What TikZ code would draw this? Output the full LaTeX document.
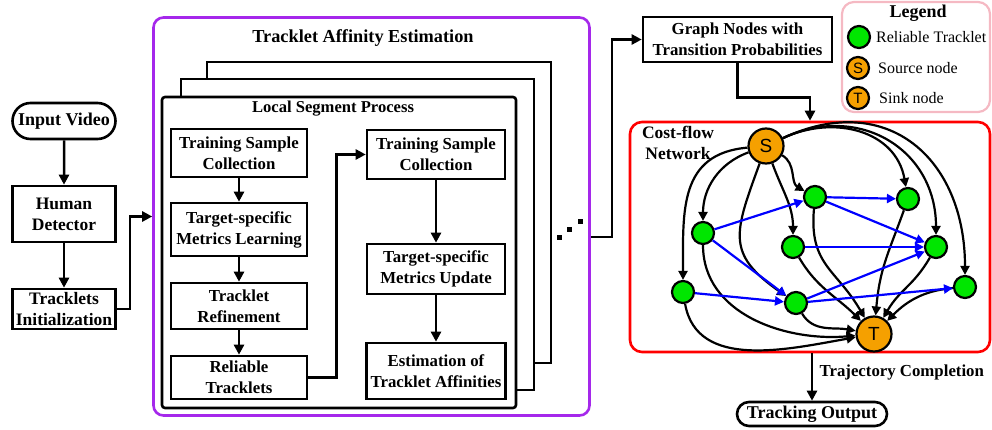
\documentclass[tikz,border=0pt]{standalone}
\usepackage{fontspec}
\setmainfont{Liberation Serif}
\newfontfamily\labelsans{Liberation Sans}
\usetikzlibrary{
    positioning,
    arrows.meta,
    shapes.misc
}

\definecolor{affpurple}{RGB}{165,40,235}
\definecolor{legendpink}{RGB}{245,185,195}
\definecolor{trackgreen}{RGB}{0,230,0}
\definecolor{endorange}{RGB}{245,160,0}

\begin{document}
\begin{tikzpicture}[
    x=1pt, y=1pt,
    procbox/.style={rectangle, draw, line width=2.6pt, fill=white, align=center, inner sep=0pt, font=\fontsize{16.8}{21}\selectfont\bfseries},
    pillbox/.style={rounded rectangle, draw, line width=2.6pt, fill=white, align=center, inner sep=0pt, font=\fontsize{18}{22}\selectfont\bfseries},
    framebox/.style={rectangle, draw, line width=2.6pt, fill=white, inner sep=0pt},
    arrow/.style={-{Triangle[length=10pt, width=10pt]}, line width=2.5pt},
    edge/.style={-{Triangle[length=9pt, width=9pt]}, line width=2.2pt},
    blueedge/.style={edge, draw=blue},
    tracklet/.style={circle, draw, line width=2.2pt, fill=trackgreen, minimum size=22pt, inner sep=0pt},
    endnode/.style={circle, draw, line width=2.2pt, fill=endorange, minimum size=35pt, inner sep=0pt, font=\labelsans\fontsize{19}{19}\selectfont},
    keyend/.style={endnode, minimum size=22pt, font=\labelsans\fontsize{15}{15}\selectfont},
    keytext/.style={anchor=west, inner sep=0pt, font=\fontsize{16}{19}\selectfont}
]
\useasboundingbox (0,0) rectangle (992,429);

% input side
\node[pillbox, minimum width=103pt, minimum height=36pt] (video) at (64,308) {Input Video};
\node[procbox, minimum width=103pt, minimum height=56pt, font=\fontsize{17.5}{21}\selectfont\bfseries] (detector) at (64,215) {Human\\Detector};
\node[procbox, minimum width=103pt, minimum height=40pt, font=\fontsize{17.5}{21}\selectfont\bfseries] (init) at (64,120) {Tracklets\\Initialization};

\draw[arrow] (video) -- (detector);
\draw[arrow] (detector) -- (init);

% affinity estimation block with stacked segments
\node[draw=affpurple, line width=2.6pt, rounded corners=10pt, minimum width=436pt, minimum height=398pt] (aff) at (371.5,212.5) {};
\node[font=\fontsize{18.3}{22}\selectfont\bfseries] (afftitle) at (363,391) {Tracklet Affinity Estimation};
\node[framebox, minimum width=344pt, minimum height=301pt] (frame3) at (379,216.5) {};
\node[framebox, minimum width=353pt, minimum height=311pt] (frame2) at (357.5,194.5) {};
\node[framebox, rounded corners=3pt, minimum width=354pt, minimum height=311pt] (lsp) at (339,176.5) {};
\node[font=\fontsize{16.6}{20}\selectfont\bfseries] (lsptitle) at (333,320) {Local Segment Process};

\node[procbox, minimum width=136pt, minimum height=48pt] (tsc1) at (239,276) {Training Sample\\Collection};
\node[procbox, minimum width=136pt, minimum height=53pt] (tsml) at (239,199.5) {Target-specific\\Metrics Learning};
\node[procbox, minimum width=136pt, minimum height=46pt] (refine) at (239,123) {Tracklet\\Refinement};
\node[procbox, minimum width=136pt, minimum height=43pt] (reliable) at (239,51.5) {Reliable\\Tracklets};
\node[procbox, minimum width=138pt, minimum height=49pt] (tsc2) at (436,274.5) {Training Sample\\Collection};
\node[procbox, minimum width=138pt, minimum height=50pt] (tsmu) at (436,160) {Target-specific\\Metrics Update};
\node[procbox, minimum width=139pt, minimum height=56pt] (estim) at (436,58) {Estimation of\\Tracklet Affinities};

\draw[arrow] (tsc1) -- (tsml);
\draw[arrow] (tsml) -- (refine);
\draw[arrow] (refine) -- (reliable);
\draw[arrow] (reliable.east) -- ++(28,0) |- (tsc2.west);
\draw[arrow] (tsc2) -- (tsmu);
\draw[arrow] (tsmu) -- (estim);

\foreach \i in {0,1,2}
    \fill ({556.5+10.5*\i},{189.5+8*\i}) rectangle ++(5,5);

\draw[arrow] (init.east) -- ++(13,0) |- (aff.west);

% graph side
\node[procbox, minimum width=189pt, minimum height=45pt] (graph) at (737.5,389.5) {Graph Nodes with\\Transition Probabilities};
\draw[arrow] ([yshift=-20.5pt]aff.east) -- ++(21,0) |- (graph.west);

\node[draw=legendpink, line width=2.2pt, rounded corners=12pt, minimum width=148pt, minimum height=110pt] (legend) at (916,372) {};
\node[font=\fontsize{18}{20}\selectfont\bfseries] (legendtitle) at (918,416) {Legend};
\node[tracklet] (keytrack) at (859,392) {};
\node[keyend] (keysource) at (858,361) {S};
\node[keyend] (keysink) at (858,331) {T};
\node[keytext] (keytracktext) at (876,392) {Reliable Tracklet};
\node[keytext] (keysourcetext) at (878,361) {Source node};
\node[keytext] (keysinktext) at (879,331) {Sink node};

\node[draw=red, line width=2.6pt, rounded corners=12pt, minimum width=360pt, minimum height=230pt] (net) at (810,192) {};
\node[align=center, font=\fontsize{17.5}{21}\selectfont\bfseries] (nettitle) at (678,286) {Cost-flow\\Network};
\draw[arrow] (graph.south) -- ++(0,-34) -| (net.north);

\node[endnode] (source) at (766,283) {S};
\node[endnode] (sink) at (874,95) {T};
\node[tracklet] (t1) at (703,196) {};
\node[tracklet] (t2) at (683,137) {};
\node[tracklet] (t3) at (815,232) {};
\node[tracklet] (t4) at (793,182) {};
\node[tracklet] (t5) at (796,126) {};
\node[tracklet] (t6) at (908,230) {};
\node[tracklet] (t7) at (936,182) {};
\node[tracklet] (t8) at (965,142) {};

\draw[edge] (source) to[out=200, in=90] (t1);
\draw[edge] (source) to[out=185, in=90, looseness=1.2] (t2);
\draw[edge] (source) to[out=250, in=145, looseness=1.4] (t5);
\draw[edge] (source) to[out=-70, in=90] (t4);
\draw[edge] (source) to[out=-30, in=150] (t3);
\draw[edge] (source) to[out=25, in=100, looseness=1.1] (t6);
\draw[edge] (source) to[out=25, in=90, looseness=1.2] (t7);
\draw[edge] (source) to[out=25, in=90, looseness=1.3] (t8);

\draw[edge] (t1) to[out=-90, in=185] (sink);
\draw[edge] (t2) to[out=-80, in=190] (sink);
\draw[edge] (t3) to[out=-95, in=120, looseness=1.2] (sink);
\draw[edge] (t4) to[out=-60, in=135] (sink);
\draw[edge] (t5) to[out=-60, in=170] (sink);
\draw[edge] (t6) to[out=-110, in=85, looseness=1.1] (sink);
\draw[edge] (t7) to[out=-120, in=60, looseness=1.1] (sink);
\draw[edge] (t8) to[out=185, in=45] (sink);

\draw[blueedge] (t1) -- (t3);
\draw[blueedge] (t1) -- (t5);
\draw[blueedge] (t2) -- (t5);
\draw[blueedge] (t3) -- (t6);
\draw[blueedge] (t3) -- (t7);
\draw[blueedge] (t4) -- (t7);
\draw[blueedge] (t5) -- (t7);
\draw[blueedge] (t5) -- (t8);

% output
\node[pillbox, minimum width=150pt, minimum height=24pt] (output) at (812,15) {Tracking Output};
\draw[arrow] (net.south -| output.north) -- (output.north)
    node[pos=0.4, right=3pt, font=\fontsize{16.8}{20}\selectfont\bfseries] (trajlabel) {Trajectory Completion};
\end{tikzpicture}
\end{document}
